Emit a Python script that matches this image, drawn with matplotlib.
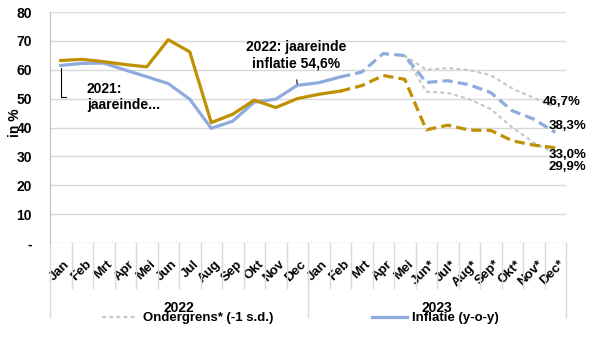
import numpy as np
import matplotlib
matplotlib.use('Agg')
import matplotlib.pyplot as plt
from matplotlib.lines import Line2D
import matplotlib.transforms as mtransforms

plt.rcParams['font.family'] = ['Liberation Sans', 'DejaVu Sans']
plt.rcParams['font.weight'] = 'bold'

# data
months = ['Jan', 'Feb', 'Mrt', 'Apr', 'Mei', 'Jun', 'Jul', 'Aug', 'Sep', 'Okt', 'Nov', 'Dec',
          'Jan', 'Feb', 'Mrt', 'Apr', 'Mei', 'Jun*', 'Jul*', 'Aug*', 'Sep*', 'Okt*', 'Nov*', 'Dec*']
years = ['2022', '2023']

# Jan 2022 - Feb 2023 (realisatie)
inflatie = [61.5, 62.2, 62.3, 59.9, 57.6, 55.2, 49.8, 39.7, 42.2, 48.8, 49.8, 54.6, 55.5, 57.5]
gold = [63.2, 63.6, 62.8, 61.8, 61.0, 70.4, 66.2, 41.7, 44.6, 49.5, 46.9, 50.0, 51.5, 52.6]
# Feb 2023 - Dec 2023 (projectie)
inflatie_proj = [57.5, 59.2, 65.6, 64.9, 55.6, 56.2, 54.8, 52.1, 45.8, 42.9, 38.3]
gold_proj = [52.6, 54.5, 58.0, 56.7, 39.2, 40.8, 39.1, 39.0, 35.4, 33.9, 33.0]
# Mei 2023 - Dec 2023 (bandbreedte)
bovengrens = [64.9, 60.0, 60.6, 59.9, 58.1, 53.5, 50.3, 47.0]
ondergrens = [64.9, 52.4, 52.0, 49.8, 46.4, 40.0, 34.8, 31.0]
end_labels = ['46,7%', '38,3%', '33,0%', '29,9%']

BLUE = '#8FAADC'
GOLD = '#BF9000'
GREY = '#C8C8C8'

fig = plt.figure(figsize=(5.96, 3.57), dpi=100)
ax = fig.add_axes([50 / 596, 1 - 243 / 357, 516 / 596, 231 / 357])

x_act = np.arange(len(inflatie))
x_proj = np.arange(13, 13 + len(inflatie_proj))
x_band = np.arange(16, 16 + len(bovengrens))

ax.plot(x_band, bovengrens, color=GREY, lw=1.6, linestyle=(0, (1, 2.2)),
        dash_capstyle='round', zorder=2)
ax.plot(x_band, ondergrens, color=GREY, lw=1.6, linestyle=(0, (1, 2.2)),
        dash_capstyle='round', zorder=2)
ax.plot(x_act, inflatie, color=BLUE, lw=2.3, zorder=3)
ax.plot(x_proj, inflatie_proj, color=BLUE, lw=2.3, linestyle=(0, (3.2, 1.6)), zorder=3)
ax.plot(x_act, gold, color=GOLD, lw=2.3, zorder=3)
ax.plot(x_proj, gold_proj, color=GOLD, lw=2.3, linestyle=(0, (3.2, 1.6)), zorder=3)

ax.set_xlim(-0.5, len(months) - 0.5)
ax.set_ylim(0, 80)
ax.set_yticks(np.arange(0, 81, 10))
ax.set_yticklabels(['-'] + [str(v) for v in range(10, 81, 10)], fontsize=10, fontweight='bold')
ax.tick_params(axis='y', length=0, pad=13)
ax.set_xticks(np.arange(len(months)))
ax.set_xticklabels(months, rotation=45, ha='right', rotation_mode='anchor',
                   fontsize=9.5, fontweight='bold')
ax.tick_params(axis='x', length=0, pad=11)
shift = mtransforms.ScaledTranslation(3 / 100, 0, fig.dpi_scale_trans)
for lbl in ax.get_xticklabels():
    lbl.set_transform(lbl.get_transform() + shift)
ax.grid(axis='y', color='#D9D9D9', lw=1)
ax.set_axisbelow(True)
for s in ['top', 'right', 'bottom']:
    ax.spines[s].set_visible(False)
ax.spines['left'].set_color('#BFBFBF')

ax.set_ylabel('in %', fontsize=10, fontweight='bold')
ax.yaxis.set_label_coords(-0.054, 0.52)

# category axis separators (multi-level)
trans = mtransforms.blended_transform_factory(ax.transData, ax.transAxes)
for b in np.arange(-0.5, len(months), 1.0):
    low = -0.32 if b in (-0.5, 11.5, len(months) - 0.5) else -0.195
    ax.plot([b, b], [0, low], transform=trans, color='#D9D9D9', lw=1, clip_on=False)
for i, yr in enumerate(years):
    ax.text(5.5 + 12 * i, -0.28, yr, transform=trans, ha='center', va='center',
            fontsize=10, fontweight='bold')

# annotations
ax.annotate('2021:\njaareinde...', xy=(0, inflatie[0]), xytext=(1.22, 50.6),
            ha='left', va='center', fontsize=10, fontweight='bold',
            arrowprops=dict(arrowstyle='-', color='black', lw=0.8, relpos=(0, 0.5),
                            connectionstyle='angle,angleA=0,angleB=90,rad=0',
                            shrinkA=13, shrinkB=1.5))
ax.annotate('2022: jaareinde\ninflatie 54,6%', xy=(11, inflatie[11]), xytext=(10.94, 65.1),
            ha='center', va='center', fontsize=10, fontweight='bold',
            arrowprops=dict(arrowstyle='-', color='black', lw=0.8, relpos=(0.5, 0),
                            shrinkA=5, shrinkB=1))

ends = [bovengrens[-1], inflatie_proj[-1], gold_proj[-1], ondergrens[-1]]
offsets = [(-9, 4), (-5, 4.6), (-5, -5.3), (-5, -9.7)]
for lab, yv, off in zip(end_labels, ends, offsets):
    ax.annotate(lab, xy=(len(months) - 1, yv), xytext=off, textcoords='offset points',
                ha='left', va='center', fontsize=9.5, fontweight='bold')

# legend
handles = [Line2D([], [], color=GREY, lw=1.6, linestyle=(0, (1, 2.2)), dash_capstyle='round'),
           Line2D([], [], color=BLUE, lw=2.3)]
fig.legend(handles, ['Ondergrens* (-1 s.d.)', 'Inflatie (y-o-y)'], loc='center',
           bbox_to_anchor=(0.505, 1 - 318 / 357), ncol=2, frameon=False,
           prop={'size': 9.5, 'weight': 'bold'}, handlelength=2.6, handletextpad=0.4,
           columnspacing=7.5)

fig.savefig('out.png', dpi=100, facecolor='white')
